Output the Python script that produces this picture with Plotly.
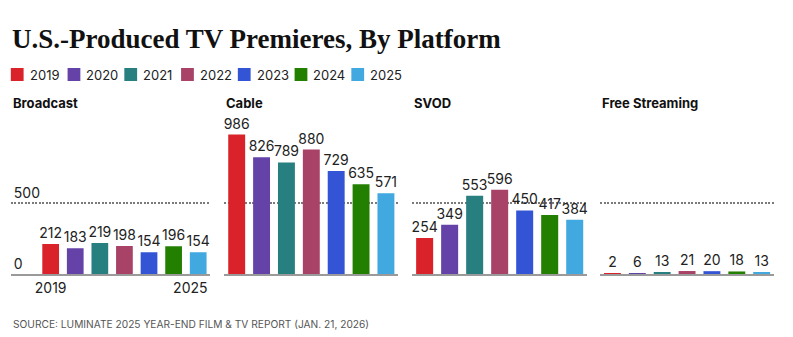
import plotly.graph_objects as go

# Premiere counts by platform and year
years = ["2019", "2020", "2021", "2022", "2023", "2024", "2025"]
platforms = ["Broadcast", "Cable", "SVOD", "Free Streaming"]
broadcast = [212, 183, 219, 198, 154, 196, 154]
cable = [986, 826, 789, 880, 729, 635, 571]
svod = [254, 349, 553, 596, 450, 417, 384]
free_streaming = [2, 6, 13, 21, 20, 18, 13]
series = [broadcast, cable, svod, free_streaming]

year_colors = ["#d92229", "#6442a8", "#287f80", "#a84266", "#3454d6", "#237f00", "#41a8e0"]

W, H = 793, 337
SANS = "Inter"


def px_x(p):
    return p / W


def px_y(p):
    return 1 - p / H


# panel horizontal extents in pixels and category ranges
panel_px = [(11, 214), (228, 405), (419, 597), (610, 787)]
panel_ranges = [[-1.62, 6.5], [-0.5, 6.5], [-0.5, 6.5], [-0.5, 6.5]]
plot_top, plot_bottom = 110, 274
y_max = 1160

fig = go.Figure()

for i, (name, values) in enumerate(zip(platforms, series)):
    n = "" if i == 0 else str(i + 1)
    fig.add_trace(go.Bar(
        x=years, y=values,
        marker=dict(color=year_colors, line=dict(width=0)),
        text=[str(v) for v in values],
        textposition="outside",
        constraintext="none",
        cliponaxis=False,
        textfont=dict(family=SANS, size=14, color="#222222"),
        xaxis="x" + n, yaxis="y" + n,
        showlegend=False,
        hoverinfo="skip",
    ))
    x0, x1 = panel_px[i]
    fig.layout["xaxis" + n] = dict(
        domain=[px_x(x0), px_x(x1)],
        anchor="y" + n,
        type="category",
        range=panel_ranges[i],
        showgrid=False,
        showline=True, linecolor="#9a9a9a", linewidth=2,
        ticks="",
        tickmode="array",
        tickvals=[years[0], years[-1]],
        # last label nudged left so it ends at the panel edge
        ticktext=[years[0], years[-1] + "&nbsp;" * 4],
        showticklabels=(i == 0),
        tickfont=dict(family=SANS, size=14, color="#222222"),
        fixedrange=True,
    )
    fig.layout["yaxis" + n] = dict(
        domain=[px_y(plot_bottom), px_y(plot_top)],
        anchor="x" + n,
        range=[0, y_max],
        tickmode="array",
        tickvals=[0, 500],
        showgrid=True, gridcolor="#7a7a7a", gridwidth=2, griddash="2px,1.5px",
        zeroline=False,
        ticks="",
        showticklabels=(i == 0),
        ticklabelposition="inside top",
        tickfont=dict(family=SANS, size=14, color="#222222"),
        fixedrange=True,
    )
    # panel heading
    fig.add_annotation(
        text=name, xref="paper", yref="paper",
        x=px_x(x0), y=px_y(102.5), xanchor="left", yanchor="middle",
        showarrow=False,
        font=dict(family=SANS, size=13, color="#111111", weight=700),
    )

# title
fig.add_annotation(
    text="U.S.-Produced TV Premieres, By Platform",
    xref="paper", yref="paper", x=px_x(10), y=px_y(39), xanchor="left", yanchor="middle",
    showarrow=False,
    font=dict(family="Liberation Serif", size=27, color="#111111", weight=700),
)

# year key
key_x0, key_step, key_y = 11, 57.7, 74.5
for j, (yr, col) in enumerate(zip(years, year_colors)):
    sx = key_x0 + j * key_step
    fig.add_shape(
        type="rect", xref="paper", yref="paper",
        x0=px_x(sx), x1=px_x(sx + 13), y0=px_y(key_y + 6.5), y1=px_y(key_y - 6.5),
        fillcolor=col, line=dict(width=0),
    )
    fig.add_annotation(
        text=yr, xref="paper", yref="paper",
        x=px_x(sx + 17), y=px_y(key_y), xanchor="left", yanchor="middle",
        showarrow=False,
        font=dict(family=SANS, size=13, color="#222222"),
    )

# source line
fig.add_annotation(
    text="SOURCE: LUMINATE 2025 YEAR-END FILM & TV REPORT (JAN. 21, 2026)",
    xref="paper", yref="paper", x=px_x(11), y=px_y(324), xanchor="left", yanchor="middle",
    showarrow=False,
    font=dict(family=SANS, size=10.2, color="#555555"),
)

fig.update_layout(
    width=W, height=H,
    margin=dict(l=0, r=0, t=0, b=0),
    paper_bgcolor="white", plot_bgcolor="white",
    bargap=0.32,
    showlegend=False,
)

fig.write_html("out.html", config={"displayModeBar": False})
